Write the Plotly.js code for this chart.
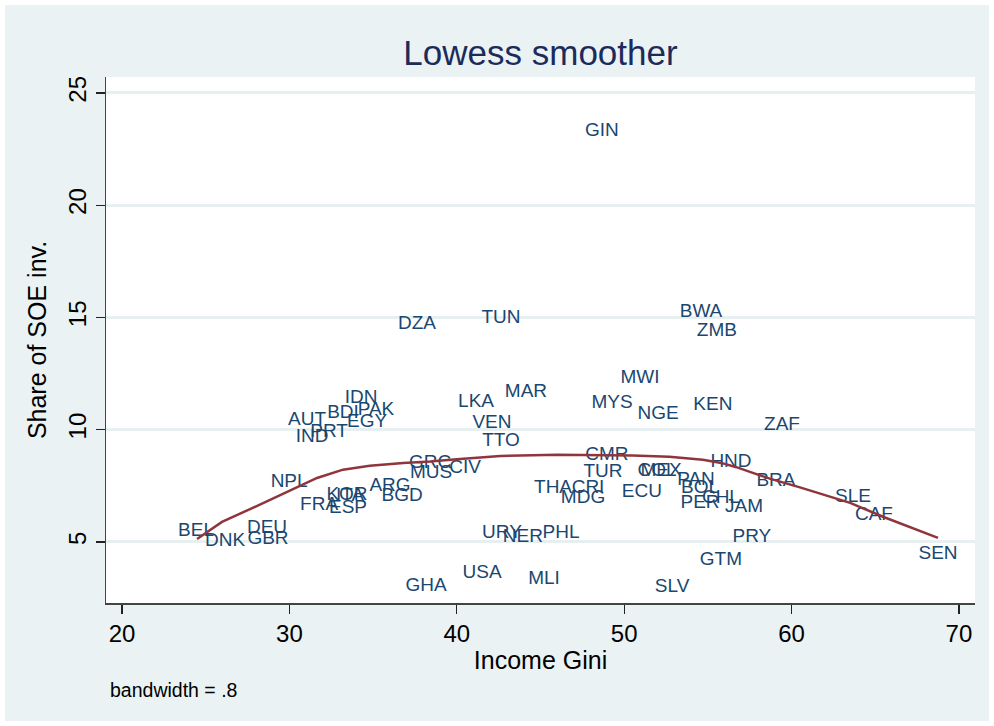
<!DOCTYPE html>
<html>
<head>
<meta charset="utf-8">
<script src="https://cdn.plot.ly/plotly-3.0.1.min.js"></script>
<style>
  html, body { margin: 0; padding: 0; background: #ffffff; }
  #chart { position: absolute; left: 5px; top: 5px; width: 984px; height: 716px; }
</style>
</head>
<body>
<div id="chart"></div>
<script>
// Country labels, income Gini (x) and share of SOE investment (y)
const countries = ["GIN","DZA","TUN","BWA","ZMB","MWI","MAR","MYS","KEN","NGE","LKA","VEN","TTO","ZAF",
  "IDN","PAK","BDI","AUT","PRT","EGY","IND","NPL","FRA","ESP","KOR","ITA","ARG","BGD","BEL","DNK","DEU","GBR",
  "GRC","MUS","CIV","THA","CRI","MDG","URY","NER","PHL","USA","GHA","MLI","SLV",
  "CMR","TUR","MEX","COL","PAN","BOL","ECU","PER","CHL","JAM","HND","BRA","PRY","GTM","SLE","CAF","SEN"];
const gini = [48.67,37.62,42.64,54.59,55.54,50.94,44.13,49.27,55.30,52.02,41.15,42.10,42.64,59.43,
  34.28,35.17,33.20,31.05,32.37,34.64,31.35,29.98,31.77,33.50,33.44,33.62,36.01,36.73,24.42,26.15,28.66,28.72,
  38.40,38.46,40.49,45.75,47.84,47.54,42.70,43.95,46.23,41.51,38.16,45.21,52.86,
  48.97,48.73,52.20,51.96,54.29,54.53,51.06,54.53,55.78,57.16,56.38,59.07,57.63,55.78,63.67,64.92,68.75];
const soeShare = [23.31,14.71,14.98,15.24,14.40,12.31,11.68,11.19,11.10,10.70,11.24,10.30,9.50,10.21,
  11.41,10.88,10.75,10.43,9.90,10.35,9.68,7.67,6.65,6.51,7.09,7.05,7.49,7.05,5.49,5.04,5.62,5.13,
  8.52,8.07,8.30,7.41,7.41,6.96,5.40,5.22,5.40,3.62,3.04,3.35,3.00,
  8.88,8.12,8.16,8.16,7.76,7.41,7.23,6.74,6.96,6.56,8.56,7.72,5.22,4.20,7.00,6.20,4.47];

// Lowess smoother curve
const lowessX = [24.48,25.97,28.84,30.81,31.65,33.2,34.8,36.8,38.4,40.0,42.6,46.0,48.6,50.5,52.7,54.7,55.8,56.7,57.9,58.7,60.5,63.5,65.5,68.75];
const lowessY = [5.13,5.89,6.87,7.54,7.85,8.22,8.39,8.52,8.58,8.68,8.83,8.88,8.88,8.85,8.79,8.66,8.52,8.33,8.02,7.82,7.43,6.74,6.11,5.18];

const xTicks = [20,30,40,50,60,70];
const yTicks = [5,10,15,20,25];

const FONT = "Liberation Sans, Arial, Helvetica, sans-serif";

const traces = [
  {
    type: "scatter", mode: "text",
    x: gini, y: soeShare, text: countries,
    textposition: "middle center",
    textfont: { family: FONT, size: 19, color: "#1a476f" },
    hoverinfo: "skip", showlegend: false, cliponaxis: false
  },
  {
    type: "scatter", mode: "lines",
    x: lowessX, y: lowessY,
    line: { color: "#90353b", width: 2.5 },
    hoverinfo: "skip", showlegend: false
  }
];

const layout = {
  width: 984, height: 716,
  paper_bgcolor: "#eaf2f3",
  plot_bgcolor: "#ffffff",
  margin: { l: 101, r: 14, t: 72, b: 118 },
  font: { family: FONT, color: "#000000" },
  title: {
    text: "Lowess smoother",
    font: { family: FONT, size: 35, color: "#1c2b5a" },
    x: 0.5, xref: "paper", xanchor: "center",
    y: 0.934, yref: "container", yanchor: "middle"
  },
  xaxis: {
    range: [19.04, 70.96],
    tickvals: xTicks, ticktext: xTicks.map(String),
    ticks: "outside", ticklen: 9, tickwidth: 1.2, tickcolor: "#222",
    showline: true, linecolor: "#444", linewidth: 1.5,
    showgrid: false, zeroline: false,
    tickfont: { family: FONT, size: 24, color: "#000" },
    title: { text: "Income Gini", font: { family: FONT, size: 25, color: "#000" }, standoff: 5 }
  },
  yaxis: {
    range: [2.28, 25.71],
    tickvals: yTicks, ticktext: yTicks.map(String),
    tickangle: -90,
    ticks: "outside", ticklen: 9, tickwidth: 1.2, tickcolor: "#222",
    showline: true, linecolor: "#444", linewidth: 1.5,
    showgrid: true, gridcolor: "#e8eff1", gridwidth: 3,
    zeroline: false,
    tickfont: { family: FONT, size: 24, color: "#000" },
    title: { text: "Share of SOE inv.", font: { family: FONT, size: 25, color: "#000" }, standoff: 10 }
  },
  annotations: [
    {
      text: "bandwidth = .8",
      xref: "paper", yref: "paper",
      x: 0.0023, y: -0.165, xanchor: "left", yanchor: "middle",
      showarrow: false,
      font: { family: FONT, size: 19.5, color: "#000" }
    }
  ]
};

Plotly.newPlot("chart", traces, layout, { displayModeBar: false, staticPlot: true });
</script>
</body>
</html>
